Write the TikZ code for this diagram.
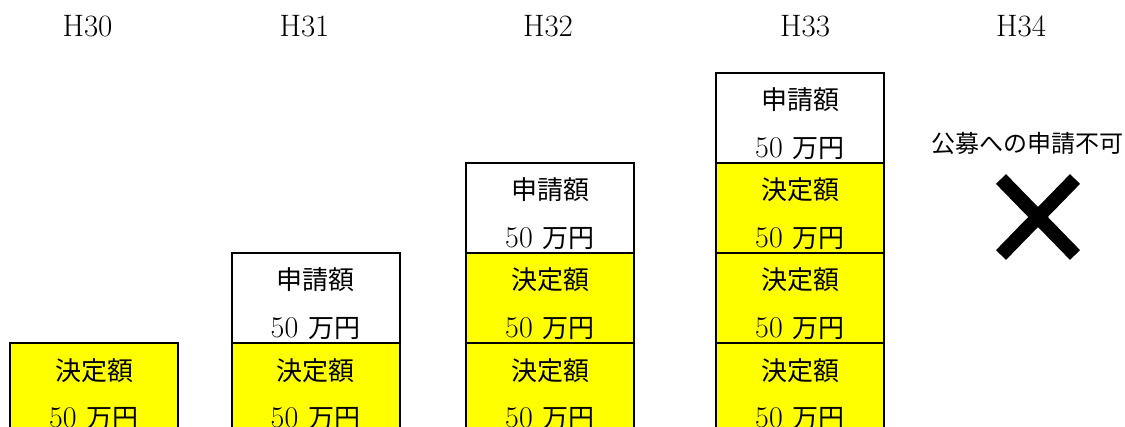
\documentclass[tikz,border=0pt]{standalone}
\usepackage{fontspec}
\newfontfamily\jp{Noto Sans CJK JP}
\definecolor{boxyellow}{HTML}{FFFF00}
\newcommand{\stackcell}[5]{%
  \node[#4] (#1) at (#2,#3+45) {};
  \node[txt] (#1t) at ([yshift=-18.5pt]#1.north) {\jp #5};
  \node[txt] (#1v) at ([yshift=-42.5pt]#1.north) {{\fontsize{15pt}{17pt}\selectfont 50}\hspace{5pt}{\jp 万円}};
}
\begin{document}
\begin{tikzpicture}[x=0.5pt,y=-0.5pt,
  cell/.style={draw=black,line width=1pt,minimum width=84pt,minimum height=45pt,inner sep=0pt,outer sep=0pt},
  dec/.style={cell,fill=boxyellow},
  req/.style={cell,fill=white},
  txt/.style={anchor=base,font=\fontsize{13pt}{15pt}\selectfont,inner sep=0pt},
  yr/.style={anchor=base,font=\fontsize{15.5pt}{17pt}\selectfont,inner sep=0pt},
  note/.style={anchor=base,font=\fontsize{12pt}{14pt}\selectfont,inner sep=0pt},
  cross/.style={line width=7pt,line cap=butt}]
\clip (0,0) rectangle (1125,427);
% year labels
\node[yr] (y30) at (87.5,37) {H30};
\node[yr] (y31) at (304.5,37) {H31};
\node[yr] (y32) at (548,37) {H32};
\node[yr] (y33) at (805,37) {H33};
\node[yr] (y34) at (1021,37) {H34};
% H30
\stackcell{a1}{94}{343}{dec}{決定額}
% H31
\stackcell{b2}{315.5}{253}{req}{申請額}
\stackcell{b1}{315.5}{343}{dec}{決定額}
% H32
\stackcell{c3}{550}{163}{req}{申請額}
\stackcell{c2}{550}{253}{dec}{決定額}
\stackcell{c1}{550}{343}{dec}{決定額}
% H33
\stackcell{d4}{800}{73}{req}{申請額}
\stackcell{d3}{800}{163}{dec}{決定額}
\stackcell{d2}{800}{253}{dec}{決定額}
\stackcell{d1}{800}{343}{dec}{決定額}
% H34
\node[note] (n34) at (1027,153) {\jp 公募への申請不可};
\coordinate (xa) at (1001,179);
\coordinate (xb) at (1075,255);
\coordinate (xc) at (1075,179);
\coordinate (xd) at (1001,255);
\draw[cross] (xa) -- (xb);
\draw[cross] (xc) -- (xd);
\end{tikzpicture}
\end{document}
